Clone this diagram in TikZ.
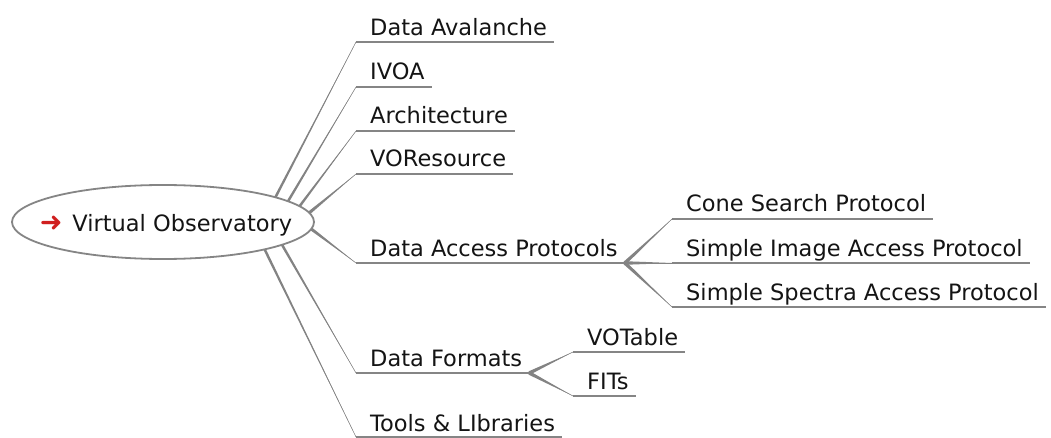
\documentclass[tikz,border=0pt]{standalone}
\usepackage{fontspec}
\setmainfont{DejaVu Sans}
\usetikzlibrary{shapes.geometric,calc}
\definecolor{linegray}{HTML}{858585}
\definecolor{edgegray}{HTML}{838383}
\definecolor{arrowred}{HTML}{D01F1F}
\tikzset{
  topic/.style={anchor=base west, inner sep=0pt, text=black!92,
    font=\fontsize{22.5}{27}\selectfont},
  underline/.style={draw=linegray, line width=2.2pt},
  rootnode/.style={ellipse, draw=linegray, line width=1.8pt, fill=white,
    minimum width=302pt, minimum height=74pt, inner sep=0pt, text=black!92,
    text height=20pt, text depth=0pt,
    font=\fontsize{22.5}{27}\selectfont},
}
% tapered branch: wide at the parent end, narrowing to the child
\newcommand\taperedge[3]{%
  \fill[edgegray] ($(#1)!#3!90:(#2)$) -- (#2) -- ($(#1)!#3!-90:(#2)$) -- cycle;
  \draw[edgegray, line width=0.5pt] (#1) -- (#2);}
\begin{document}
\begin{tikzpicture}[x=1pt, y=-1pt]
\useasboundingbox (0,0) rectangle (1051,438);

% branch origins on the central topic
\coordinate (o1) at (274,200);
\coordinate (o2) at (287,203);
\coordinate (o3) at (299,207);
\coordinate (o4) at (309,213);
\coordinate (o5) at (310,228);
\coordinate (o6) at (281,243);
\coordinate (o7) at (263,246);

% left ends of the underlines (where branches arrive)
\coordinate (da-s) at (356,42);
\coordinate (iv-s) at (356,87);
\coordinate (ar-s) at (356,131);
\coordinate (vr-s) at (356,174);
\coordinate (dap-s) at (356,263);
\coordinate (df-s) at (356,373);
\coordinate (tl-s) at (356,437);
\coordinate (cs-s) at (672,219);
\coordinate (si-s) at (672,263);
\coordinate (ss-s) at (672,307);
\coordinate (vt-s) at (573,352);
\coordinate (fi-s) at (573,396);

% topics
\node[topic] (da) at (370,36) {Data Avalanche};
\node[topic] (iv) at (370,80) {IVOA};
\node[topic] (ar) at (370,124) {Architecture};
\node[topic] (vr) at (370,167) {VOResource};
\node[topic] (dap) at (370,256) {Data Access Protocols};
\node[topic] (df) at (370,366) {Data Formats};
\node[topic] (tl) at (370,431) {Tools \& LIbraries};
\node[topic] (cs) at (686,212) {Cone Search Protocol};
\node[topic] (si) at (686,256) {Simple Image Access Protocol};
\node[topic] (ss) at (686,300) {Simple Spectra Access Protocol};
\node[topic] (vt) at (587,345) {VOTable};
\node[topic] (fi) at (587,389) {FITs};

% underlines
\foreach \t in {da,iv,ar,vr,dap,df,tl,cs,si,ss,vt,fi}
  \draw[underline] (\t-s) -- ($(\t-s -| \t.east)+(7,0)$);

% junction points at the right end of the parent underlines
\coordinate (dap-j) at ($(dap-s -| dap.east)+(7,0)$);
\coordinate (df-j) at ($(df-s -| df.east)+(7,0)$);

% branches from the central topic
\taperedge{o1}{da-s}{1.3pt}
\taperedge{o2}{iv-s}{1.3pt}
\taperedge{o3}{ar-s}{1.3pt}
\taperedge{o4}{vr-s}{1.6pt}
\taperedge{o5}{dap-s}{1.6pt}
\taperedge{o6}{df-s}{1.3pt}
\taperedge{o7}{tl-s}{1.3pt}

% second-level branches
\taperedge{dap-j}{cs-s}{1.8pt}
\taperedge{dap-j}{si-s}{1.8pt}
\taperedge{dap-j}{ss-s}{1.8pt}
\taperedge{df-j}{vt-s}{1.8pt}
\taperedge{df-j}{fi-s}{1.8pt}

% central topic
\node[rootnode] (root) at (163,222)
  {\makebox[0pt]{\hspace{6pt}{\color{arrowred}\fontsize{27}{30}\selectfont ➜}\hspace{10pt}Virtual Observatory}};
\end{tikzpicture}
\end{document}
